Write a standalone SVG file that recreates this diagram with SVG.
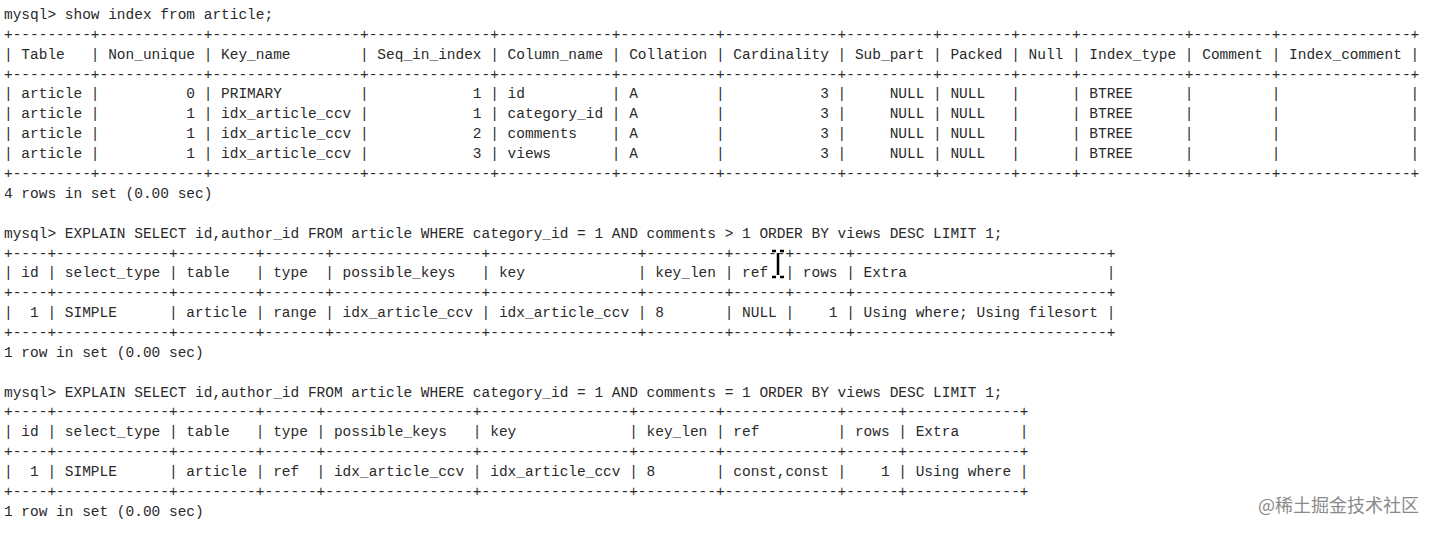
<svg xmlns="http://www.w3.org/2000/svg" width="1436" height="533" viewBox="0 0 1436 533">
<style>
text{font-family:"Liberation Mono","DejaVu Sans Mono",monospace;font-size:14.47px;fill:#2a2a2a;white-space:pre}
.wm{font-family:"Noto Sans CJK SC","Noto Sans",sans-serif;font-size:18px;fill:#8a8a8a}
</style>
<rect width="1436" height="533" fill="#fff"/>
<g id="output" xml:space="preserve">
<text x="4" y="19">mysql&gt; show index from article;</text>
<text x="4" y="39">+---------+------------+-----------------+--------------+-------------+-----------+-------------+----------+--------+------+------------+---------+---------------+</text>
<text x="4" y="59">| Table   | Non_unique | Key_name        | Seq_in_index | Column_name | Collation | Cardinality | Sub_part | Packed | Null | Index_type | Comment | Index_comment |</text>
<text x="4" y="79">+---------+------------+-----------------+--------------+-------------+-----------+-------------+----------+--------+------+------------+---------+---------------+</text>
<text x="4" y="98">| article |          0 | PRIMARY         |            1 | id          | A         |           3 |     NULL | NULL   |      | BTREE      |         |               |</text>
<text x="4" y="118">| article |          1 | idx_article_ccv |            1 | category_id | A         |           3 |     NULL | NULL   |      | BTREE      |         |               |</text>
<text x="4" y="138">| article |          1 | idx_article_ccv |            2 | comments    | A         |           3 |     NULL | NULL   |      | BTREE      |         |               |</text>
<text x="4" y="158">| article |          1 | idx_article_ccv |            3 | views       | A         |           3 |     NULL | NULL   |      | BTREE      |         |               |</text>
<text x="4" y="178">+---------+------------+-----------------+--------------+-------------+-----------+-------------+----------+--------+------+------------+---------+---------------+</text>
<text x="4" y="198">4 rows in set (0.00 sec)</text>
<text x="4" y="238">mysql&gt; EXPLAIN SELECT id,author_id FROM article WHERE category_id = 1 AND comments &gt; 1 ORDER BY views DESC LIMIT 1;</text>
<text x="4" y="258">+----+-------------+---------+-------+-----------------+-----------------+---------+------+------+-----------------------------+</text>
<text x="4" y="277">| id | select_type | table   | type  | possible_keys   | key             | key_len | ref  | rows | Extra                       |</text>
<text x="4" y="297">+----+-------------+---------+-------+-----------------+-----------------+---------+------+------+-----------------------------+</text>
<text x="4" y="317">|  1 | SIMPLE      | article | range | idx_article_ccv | idx_article_ccv | 8       | NULL |    1 | Using where; Using filesort |</text>
<text x="4" y="337">+----+-------------+---------+-------+-----------------+-----------------+---------+------+------+-----------------------------+</text>
<text x="4" y="357">1 row in set (0.00 sec)</text>
<text x="4" y="397">mysql&gt; EXPLAIN SELECT id,author_id FROM article WHERE category_id = 1 AND comments = 1 ORDER BY views DESC LIMIT 1;</text>
<text x="4" y="416">+----+-------------+---------+------+-----------------+-----------------+---------+-------------+------+-------------+</text>
<text x="4" y="436">| id | select_type | table   | type | possible_keys   | key             | key_len | ref         | rows | Extra       |</text>
<text x="4" y="456">+----+-------------+---------+------+-----------------+-----------------+---------+-------------+------+-------------+</text>
<text x="4" y="476">|  1 | SIMPLE      | article | ref  | idx_article_ccv | idx_article_ccv | 8       | const,const |    1 | Using where |</text>
<text x="4" y="496">+----+-------------+---------+------+-----------------+-----------------+---------+-------------+------+-------------+</text>
<text x="4" y="516">1 row in set (0.00 sec)</text>
</g>
<path d="M772,251 h4 M784,251 h-4 M778,253 v22 M772,277 h4 M784,277 h-4" stroke="#000" stroke-width="2.5" fill="none"/>
<text class="wm" x="1258" y="512">@稀土掘金技术社区</text>
</svg>
